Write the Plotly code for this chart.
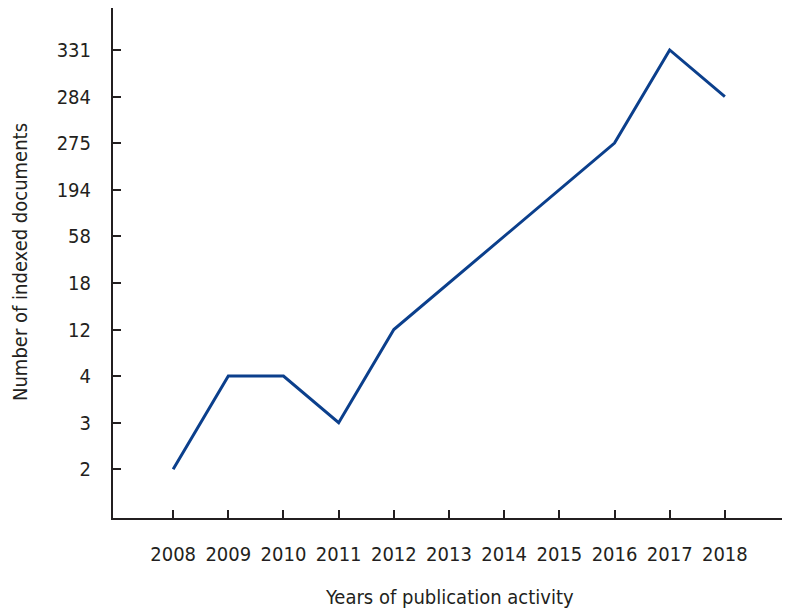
import plotly.graph_objects as go

# Data
years = [2008, 2009, 2010, 2011, 2012, 2013, 2014, 2015, 2016, 2017, 2018]
documents = ["2", "4", "4", "3", "12", "18", "58", "194", "275", "331", "284"]
y_order = ["2", "3", "4", "12", "18", "58", "194", "275", "284", "331"]

font_family = "DejaVu Sans Condensed, Liberation Sans Narrow, Arial Narrow, sans-serif"
ink = "#231f20"

# the page body has an 8px margin, so the figure is sized to the visible area
W, H = 782, 604
L, R, T, B = 105, 5, 0, 94
pw, ph = W - L - R, H - T - B

trace = go.Scatter(
    x=years,
    y=documents,
    mode="lines",
    line=dict(color="#0b3f8c", width=3),
)

fig = go.Figure(data=[trace])

fig.update_layout(
    width=W,
    height=H,
    margin=dict(l=L, r=R, t=T, b=B),
    plot_bgcolor="white",
    paper_bgcolor="white",
    showlegend=False,
    font=dict(family=font_family, size=20, color=ink),
)

fig.update_xaxes(
    range=[2006.91, 2019.09],
    tickmode="array",
    tickvals=years,
    ticktext=[str(y) for y in years],
    ticks="inside",
    ticklen=8,
    tickwidth=1.5,
    tickcolor=ink,
    showline=True,
    linecolor=ink,
    linewidth=2,
    showgrid=False,
    zeroline=False,
    automargin=False,
    ticklabelstandoff=17,
)

fig.update_yaxes(
    type="category",
    categoryorder="array",
    categoryarray=y_order,
    range=[-1.045, 9.90],
    ticks="inside",
    ticklen=8,
    tickwidth=1.5,
    tickcolor=ink,
    showline=True,
    linecolor=ink,
    linewidth=2,
    showgrid=False,
    zeroline=False,
    automargin=False,
    ticklabelstandoff=16,
)

# axis titles placed as annotations to match the reference positions
fig.add_annotation(
    text="Years of publication activity",
    xref="paper", yref="paper",
    x=(449 - 113) / pw, y=(518 - 597) / ph,
    xanchor="center", yanchor="middle",
    showarrow=False,
    font=dict(size=20),
)
fig.add_annotation(
    text="Number of indexed documents",
    xref="paper", yref="paper",
    x=(20 - 113) / pw, y=(518 - 262) / ph,
    xanchor="center", yanchor="middle",
    textangle=-90,
    showarrow=False,
    font=dict(size=20),
)

fig.write_html("out.html")
